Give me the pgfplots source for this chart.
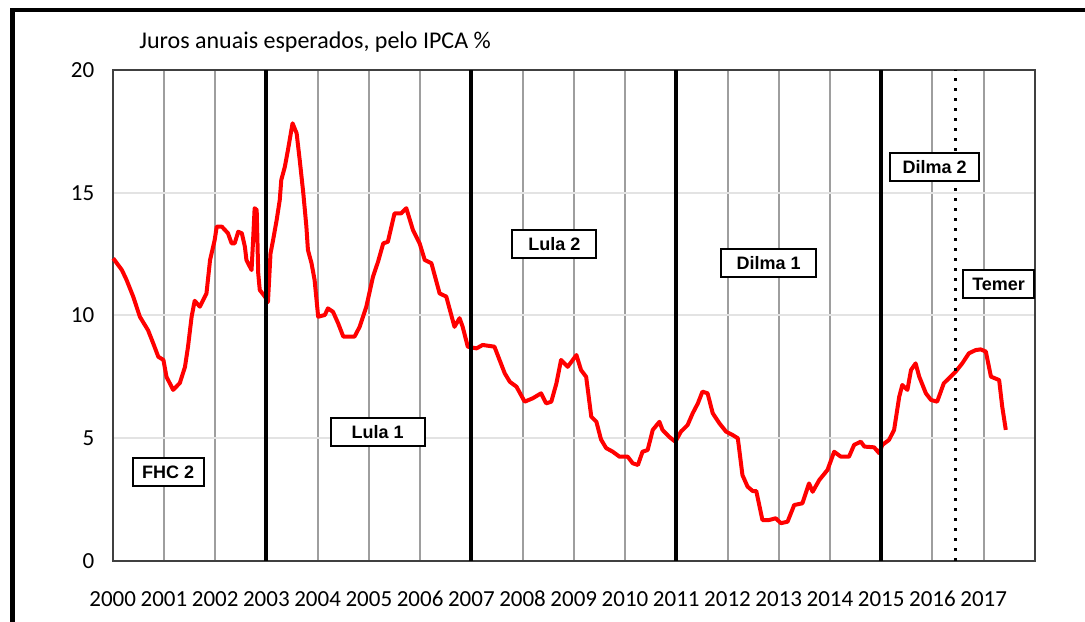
\documentclass[border=0pt]{standalone}
\usepackage{pgfplots}
\pgfplotsset{compat=1.18}
\usepackage{pgfplotstable}
\usepackage{fontspec}
\setmainfont{Carlito}
\newfontfamily\boxfont{Liberation Sans}

\pgfplotstableread{
x y
2000.01 12.33
2000.18 11.85
2000.27 11.45
2000.40 10.77
2000.53 9.95
2000.69 9.4
2000.79 8.87
2000.89 8.32
2000.99 8.19
2001.05 7.5
2001.18 6.97
2001.31 7.25
2001.41 7.9
2001.47 8.73
2001.54 9.95
2001.60 10.6
2001.70 10.36
2001.83 10.9
2001.90 12.26
2001.99 13.07
2002.03 13.62
2002.13 13.62
2002.25 13.35
2002.32 12.94
2002.38 12.94
2002.45 13.41
2002.52 13.35
2002.58 12.8
2002.61 12.26
2002.71 11.85
2002.74 13.07
2002.77 14.37
2002.81 14.3
2002.84 11.72
2002.87 11.04
2002.97 10.77
2003.03 10.55
2003.08 12.53
2003.13 13.07
2003.20 13.89
2003.26 14.7
2003.29 15.52
2003.36 16.06
2003.42 16.74
2003.51 17.83
2003.59 17.42
2003.65 16.33
2003.72 14.98
2003.78 13.62
2003.81 12.67
2003.88 12.13
2003.94 11.45
2004.01 9.95
2004.14 10.02
2004.20 10.29
2004.30 10.15
2004.40 9.68
2004.50 9.14
2004.72 9.14
2004.82 9.54
2004.95 10.36
2005.08 11.58
2005.18 12.2
2005.28 12.94
2005.37 13.0
2005.50 14.16
2005.63 14.16
2005.73 14.37
2005.86 13.48
2005.99 12.94
2006.09 12.26
2006.22 12.13
2006.38 10.9
2006.51 10.77
2006.67 9.54
2006.77 9.89
2006.83 9.54
2006.93 8.73
2007.10 8.66
2007.22 8.8
2007.45 8.73
2007.65 7.65
2007.75 7.3
2007.88 7.1
2008.04 6.49
2008.20 6.63
2008.36 6.83
2008.46 6.42
2008.56 6.49
2008.66 7.24
2008.75 8.19
2008.88 7.91
2009.05 8.39
2009.14 7.78
2009.24 7.5
2009.34 5.88
2009.44 5.67
2009.53 4.95
2009.63 4.6
2009.76 4.45
2009.89 4.25
2010.05 4.25
2010.15 3.98
2010.25 3.91
2010.34 4.45
2010.44 4.52
2010.54 5.34
2010.67 5.67
2010.73 5.34
2010.86 5.06
2010.98 4.86
2011.09 5.27
2011.22 5.54
2011.32 6.02
2011.42 6.42
2011.51 6.9
2011.61 6.83
2011.71 6.02
2011.84 5.61
2011.97 5.27
2012.10 5.13
2012.20 5.0
2012.29 3.5
2012.39 3.03
2012.49 2.85
2012.56 2.85
2012.68 1.67
2012.81 1.67
2012.94 1.74
2013.04 1.54
2013.17 1.6
2013.30 2.28
2013.46 2.35
2013.59 3.16
2013.66 2.82
2013.79 3.3
2013.95 3.71
2014.08 4.45
2014.21 4.25
2014.37 4.25
2014.47 4.73
2014.60 4.86
2014.67 4.66
2014.86 4.63
2014.96 4.39
2015.02 4.73
2015.15 4.93
2015.25 5.34
2015.35 6.69
2015.41 7.17
2015.51 6.97
2015.58 7.78
2015.67 8.05
2015.74 7.51
2015.87 6.83
2015.97 6.56
2016.09 6.49
2016.22 7.24
2016.32 7.44
2016.45 7.71
2016.58 8.05
2016.71 8.46
2016.84 8.59
2016.94 8.62
2017.04 8.53
2017.14 7.51
2017.30 7.37
2017.36 6.29
2017.43 5.34
}\juros

\begin{document}
\begin{tikzpicture}[x=0.5pt,y=0.5pt]
\useasboundingbox (0,0) rectangle (1085,621);
\clip (0,0) rectangle (1085,621);
% outer frame (cut at bottom and right)
\draw[line width=2.2pt, line cap=rect] (12.5,-10) -- (12.5,611) -- (1100,611);
% title
\node[font=\fontsize{12}{14}\selectfont, anchor=west, inner sep=0pt] at (139,579) {Juros anuais esperados, pelo IPCA \%};
\begin{axis}[
  at={(56.35pt,30pt)}, anchor=south west,
  scale only axis, width=461.15pt, height=245.5pt,
  xmin=2000, xmax=2018, ymin=0, ymax=20,
  xtick={2000,...,2017}, ytick={0,5,10,15,20},
  major tick length=0pt,
  xmajorgrids, ymajorgrids,
  major x grid style={line width=1pt, color=black!38},
  major y grid style={line width=1pt, color=black!11},
  axis line style={line width=1pt, color=black!75},
  /pgf/number format/assume math mode=true,
  /pgf/number format/1000 sep={},
  tick label style={font=\fontsize{11.5}{13}\selectfont, text=black},
  xticklabel style={anchor=base, inner sep=0pt, yshift=-22.5pt},
  yticklabel style={anchor=east, inner sep=0pt, xshift=-9pt},
  clip=false,
]
\addplot[red, line width=2pt, line join=round] table {\juros};
\addplot[black, line width=2pt] coordinates {(2003,0) (2003,20)};
\addplot[black, line width=2pt] coordinates {(2007,0) (2007,20)};
\addplot[black, line width=2pt] coordinates {(2011,0) (2011,20)};
\addplot[black, line width=2pt] coordinates {(2015,0) (2015,20)};
\addplot[black, line width=1.6pt, dash pattern=on 1.6pt off 3.4pt] coordinates {(2016.45,0) (2016.45,20)};
\tikzset{lab/.style={draw=black, line width=1pt, fill=white, font=\boxfont\bfseries\fontsize{9}{10}\selectfont, minimum height=14pt, inner xsep=2pt, inner ysep=0pt}}
\node[lab, minimum width=35.5pt] at (axis cs:2001.08,3.63) {FHC 2};
\node[lab, minimum width=47pt] at (axis cs:2005.17,5.25) {Lula 1};
\node[lab, minimum width=42pt] at (axis cs:2008.62,12.91) {Lula 2};
\node[lab, minimum width=47.5pt] at (axis cs:2012.80,12.14) {Dilma 1};
\node[lab, minimum width=44.5pt] at (axis cs:2016.04,16.03) {Dilma 2};
\node[lab, minimum width=35.5pt] at (axis cs:2017.29,11.28) {Temer};
\end{axis}
\end{tikzpicture}
\end{document}
